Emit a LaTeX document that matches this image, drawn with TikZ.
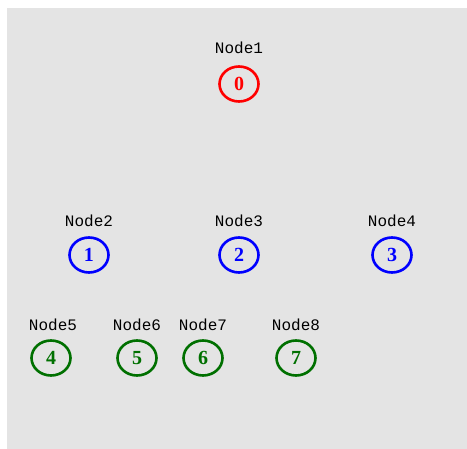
\documentclass[tikz,border=0pt]{standalone}
\usepackage{fontspec}
\setmainfont{Liberation Serif}
\newfontfamily\labelfont{Liberation Mono}
\usetikzlibrary{shapes.geometric}
\definecolor{bggray}{RGB}{228,228,228}
\definecolor{leafgreen}{RGB}{0,112,0}
\tikzset{
	vtx/.style={draw, ellipse, line width=2.6pt, minimum width=39pt, minimum height=35pt, inner sep=0pt, font=\bfseries\fontsize{20}{20}\selectfont},
	tag/.style={inner sep=0pt, text=black, font=\labelfont\fontsize{16}{16}\selectfont}
}
\begin{document}
\begin{tikzpicture}[x=1pt,y=1pt]
	\useasboundingbox (0,0) rectangle (467,-449);
	\fill[bggray] (7,-8) rectangle (467,-449);
	
	% root
	\node[vtx, red] (n0) at (239,-84) {0}; \node[tag] (t1) at (239,-48) {Node1};
	
	% second row
	\node[vtx, blue] (n1) at (89,-255) {1}; \node[tag] (t2) at (89,-221) {Node2};
	\node[vtx, blue] (n2) at (239,-255) {2}; \node[tag] (t3) at (239,-221) {Node3};
	\node[vtx, blue] (n3) at (392,-255) {3}; \node[tag] (t4) at (392,-221) {Node4};
	
	% third row
	\node[vtx, leafgreen] (n4) at (51,-358) {4}; \node[tag] (t5) at (53,-325) {Node5};
	\node[vtx, leafgreen] (n5) at (137,-358) {5}; \node[tag] (t6) at (137,-325) {Node6};
	\node[vtx, leafgreen] (n6) at (203,-358) {6}; \node[tag] (t7) at (203,-325) {Node7};
	\node[vtx, leafgreen] (n7) at (296,-358) {7}; \node[tag] (t8) at (296,-325) {Node8};
\end{tikzpicture}
\end{document}
